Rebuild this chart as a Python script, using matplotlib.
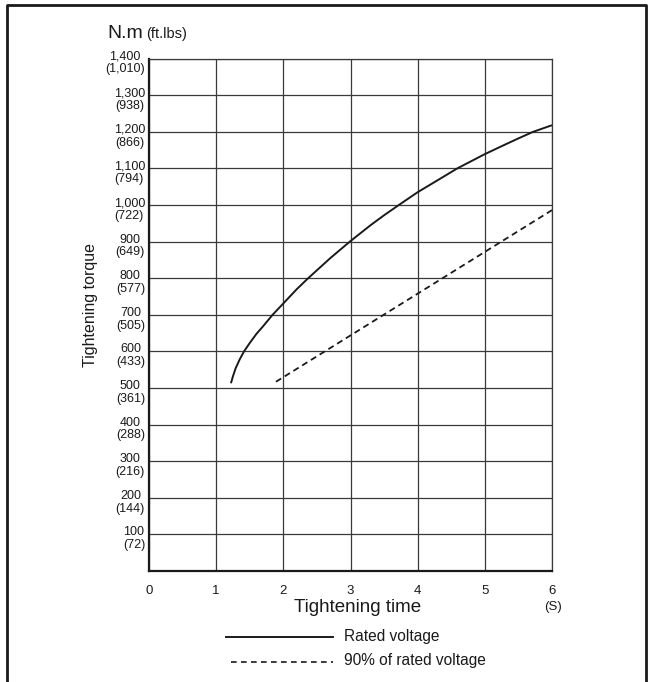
import numpy as np
import matplotlib
matplotlib.use("Agg")
import matplotlib.pyplot as plt
from matplotlib.lines import Line2D
from matplotlib.transforms import offset_copy, blended_transform_factory

plt.rcParams["font.family"] = ["Liberation Sans", "DejaVu Sans"]

# ---------------------------------------------------------------------------
# Data
# ---------------------------------------------------------------------------
rated_time = [1.22, 1.25, 1.29, 1.35, 1.415, 1.5, 1.6, 1.7, 1.84, 2.0,
              2.2, 2.37, 2.7, 2.99, 3.3, 3.5, 3.72, 4.0, 4.3, 4.59,
              4.8, 5.0, 5.3, 5.5, 5.72, 6.0]
rated_torque = [513, 532, 554, 578, 600, 623, 648, 669, 700, 731,
                770, 800, 855, 900, 945, 972, 1000, 1035, 1068, 1100,
                1120, 1139, 1165, 1182, 1200, 1218]

low_time = [1.89, 6.0]
low_torque = [517, 986]

x_ticks = [0, 1, 2, 3, 4, 5, 6]
y_ticks = [100, 200, 300, 400, 500, 600, 700, 800, 900, 1000, 1100, 1200, 1300, 1400]
y_labels_nm = ["100", "200", "300", "400", "500", "600", "700", "800", "900",
               "1,000", "1,100", "1,200", "1,300", "1,400"]
y_labels_ftlbs = ["(72)", "(144)", "(216)", "(288)", "(361)", "(433)", "(505)",
                  "(577)", "(649)", "(722)", "(794)", "(866)", "(938)", "(1,010)"]

W, H = 652, 682
INK = "#1a1a1a"
GRID = "#3a3a3a"


def fx(px):
    return px / W


def fy(py):
    return 1 - py / H


fig = plt.figure(figsize=(W / 100, H / 100), dpi=100)
ax = fig.add_axes([fx(149), fy(571), fx(552) - fx(149), fy(58.6) - fy(571)])

ax.plot(rated_time, rated_torque, color=INK, linewidth=1.4,
        solid_capstyle="butt", solid_joinstyle="round")
ax.plot(low_time, low_torque, color=INK, linewidth=1.3, linestyle=(0, (3.4, 2.3)))

ax.set_xlim(0, 6)
ax.set_ylim(0, 1400)

ax.set_xticks(x_ticks)
ax.set_xticklabels([str(v) for v in x_ticks], fontsize=9.5, color=INK)
ax.set_yticks(y_ticks)
ax.set_yticklabels([])
ax.tick_params(axis="both", length=0)
ax.tick_params(axis="x", pad=10)

ax.grid(True, color=GRID, linewidth=0.9)
ax.set_axisbelow(True)

for side in ["top", "right"]:
    ax.spines[side].set_color(GRID)
    ax.spines[side].set_linewidth(0.9)
for side in ["left", "bottom"]:
    ax.spines[side].set_color(INK)
    ax.spines[side].set_linewidth(1.6)

# two-line y tick labels (N.m over ft.lbs)
trans = blended_transform_factory(ax.transAxes, ax.transData)
trans = offset_copy(trans, fig=fig, x=-4, y=8, units="dots")
for v, a, b in zip(y_ticks, y_labels_nm, y_labels_ftlbs):
    ax.text(0, v, a + "\n" + b, transform=trans, ha="right", va="top",
            fontsize=9, linespacing=1.08, color=INK, multialignment="center")

# axis texts
fig.text(fx(107), fy(38), "N.m", fontsize=14, color=INK, ha="left", va="baseline")
fig.text(fx(146), fy(38), "(ft.lbs)", fontsize=10.5, color=INK, ha="left", va="baseline")
fig.text(fx(90), fy(305), "Tightening torque", fontsize=11.5, color=INK,
         rotation=90, ha="center", va="center")
fig.text(fx(358), fy(607), "Tightening time", fontsize=13.5, color=INK,
         ha="center", va="center")
fig.text(fx(553), fy(607), "(S)", fontsize=9.5, color=INK, ha="center", va="center")

# legend
fig.add_artist(Line2D([fx(226), fx(333)], [fy(637), fy(637)], color=INK,
                      linewidth=1.4, transform=fig.transFigure))
fig.add_artist(Line2D([fx(231), fx(333)], [fy(662), fy(662)], color=INK,
                      linewidth=1.2, linestyle=(0, (3.4, 2.6)),
                      transform=fig.transFigure))
fig.text(fx(344), fy(636), "Rated voltage", fontsize=11.2, color=INK,
         ha="left", va="center")
fig.text(fx(344), fy(661), "90% of rated voltage", fontsize=11.2, color=INK,
         ha="left", va="center")

# outer frame (open at the bottom)
fig.add_artist(Line2D([fx(7), fx(7), fx(646), fx(646)],
                      [fy(H), fy(5), fy(5), fy(H)],
                      color=INK, linewidth=2, transform=fig.transFigure))

fig.savefig("out.png", dpi=100)
